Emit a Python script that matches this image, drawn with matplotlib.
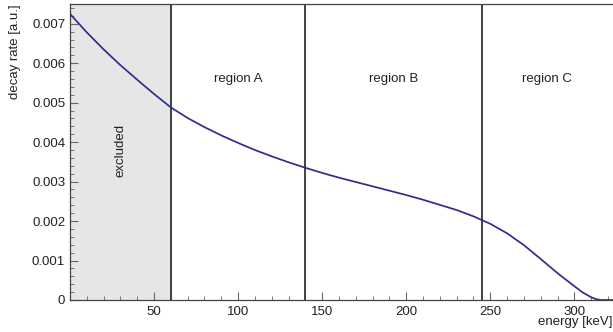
import matplotlib
matplotlib.use("Agg")
import matplotlib.pyplot as plt
from matplotlib.ticker import MultipleLocator

plt.rcParams['font.family'] = ['Liberation Sans', 'DejaVu Sans']

# spectrum samples: energy [keV] and decay rate [a.u.]
energy = [0, 10, 20, 30, 40, 50, 60, 70, 80, 90, 100, 110, 120, 130, 140,
          150, 160, 170, 180, 190, 200, 210, 220, 230, 240, 250, 260, 270,
          280, 290, 300, 305, 310, 313, 316, 323]
rate = [0.00725, 0.00678, 0.00635, 0.00595, 0.00558, 0.00522, 0.00488,
        0.00461, 0.00438, 0.00417, 0.00398, 0.00380, 0.00364, 0.00349,
        0.00335, 0.00322, 0.00310, 0.00299, 0.00288, 0.00277, 0.00266,
        0.00254, 0.00241, 0.00228, 0.00212, 0.00193, 0.00169, 0.00139,
        0.00104, 0.00068, 0.00035, 0.00019, 0.00007, 0.00002, 0.0, 0.0]

# region boundaries [keV]
excluded_max = 60
boundaries = [60, 140, 245]
region_labels = ["region A", "region B", "region C"]

x_min, x_max = 0, 323
y_min, y_max = 0, 0.0075

fig = plt.figure(figsize=(6.13, 3.32), dpi=100)
ax = fig.add_axes([70 / 613, 1 - 300 / 332, 1 - 70 / 613, 296 / 332])
ax.set_xlim(x_min, x_max)
ax.set_ylim(y_min, y_max)

ax.axvspan(x_min, excluded_max, color='#e6e6e6', zorder=0)
ax.text(excluded_max / 2, 0.0038, "excluded", rotation=90, ha='center',
        va='center', fontsize=9.5, color='#222222')

for b in boundaries:
    ax.axvline(b, color='#333333', lw=1.3, zorder=2)

edges = boundaries + [x_max]
for lab, lo, hi in zip(region_labels, edges[:-1], edges[1:]):
    ax.text((lo + hi) / 2, 0.0056, lab, ha='center', va='center',
            fontsize=9.5, color='#222222')

ax.plot(energy, rate, color='#2e2e8c', lw=1.25, zorder=3)

ax.xaxis.set_minor_locator(MultipleLocator(10))
ax.yaxis.set_minor_locator(MultipleLocator(0.0002))
ax.set_xticks([50, 100, 150, 200, 250, 300])
ax.set_yticks([0, 0.001, 0.002, 0.003, 0.004, 0.005, 0.006, 0.007])
ax.set_yticklabels(["0", "0.001", "0.002", "0.003", "0.004", "0.005", "0.006", "0.007"])

ax.tick_params(which='both', direction='in', colors='#666666', labelcolor='#222222',
               labelsize=9.5, top=False, right=False)
ax.tick_params(which='major', length=6, width=0.8)
ax.tick_params(which='minor', length=3, width=0.6)
ax.tick_params(axis='x', pad=4)

for s in ['left', 'bottom', 'top']:
    ax.spines[s].set_color('#444444')
    ax.spines[s].set_linewidth(0.9)
ax.spines['right'].set_visible(False)

ax.set_xlabel("energy [keV]", fontsize=9.5, color='#222222', ha='right', x=1.0, labelpad=-1)
ax.set_ylabel("decay rate [a.u.]", fontsize=9.5, color='#222222', ha='right', y=1.0, labelpad=8)

fig.savefig("out.png", dpi=100)
